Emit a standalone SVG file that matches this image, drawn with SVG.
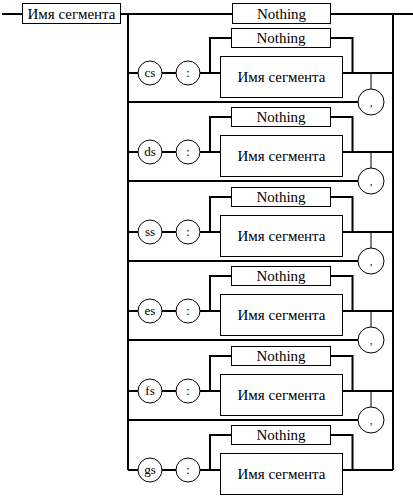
<svg xmlns="http://www.w3.org/2000/svg" width="413" height="498" viewBox="0 0 413 498">
<defs>
<style>
.bg{fill:#fff}
.box{fill:#fff;stroke:#000;stroke-width:1}
.ln{fill:none;stroke:#000;stroke-width:2}
.thin{fill:none;stroke:#000;stroke-width:1}
text{font-family:'Liberation Serif','DejaVu Serif',serif;fill:#000;text-anchor:middle}
.t{font-size:15px}
.c{font-size:13px}
.cm{font-size:11px}
</style>
<g id="row">
<path class="ln" d="M128 0H138M162 0H176M200 0H220.5M210 0V-35H231.5M330.5 -35H352.5V0M342.5 0H393"/>
<circle class="thin" cx="150" cy="0" r="12" fill="#fff"/>
<circle class="thin" cx="188" cy="0" r="12" fill="#fff"/>
<text class="c" x="188" y="4" font-family="Liberation Serif, serif">:</text>
<rect class="box" x="231.5" y="-44.5" width="99" height="19"/>
<text class="t" x="281" y="-30" font-family="Liberation Serif, serif">Nothing</text>
<rect class="box" x="220.5" y="-16.5" width="122" height="41"/>
<text class="t" x="281.5" y="9" font-family="Liberation Serif, serif">Имя сегмента</text>
</g>
<g id="loop">
<path class="thin" d="M371 0V16"/>
<path class="ln" d="M128 29H358"/>
<circle class="thin" cx="371" cy="29" r="13" fill="#fff"/>
<text class="cm" x="371" y="33" font-family="Liberation Serif, serif">,</text>
</g>
</defs>
<rect class="bg" x="0" y="0" width="413" height="498"/>
<g id="connectors">
<path class="ln" d="M2 14H22.5M120.5 14H232.5M330.5 14H413M128 14V470M393 14V470"/>
</g>
<g id="start">
<rect class="box" x="22.5" y="3.5" width="98" height="20"/>
<text class="t" x="71.5" y="19" font-family="Liberation Serif, serif">Имя сегмента</text>
</g>
<g id="nothing-top">
<rect class="box" x="232.5" y="3.5" width="98" height="20"/>
<text class="t" x="281.5" y="19" font-family="Liberation Serif, serif">Nothing</text>
</g>
<g id="row-cs" transform="translate(0,73)"><use href="#row"/><use href="#loop"/><text class="c" x="150" y="4" font-family="Liberation Serif, serif">cs</text></g>
<g id="row-ds" transform="translate(0,152)"><use href="#row"/><use href="#loop"/><text class="c" x="150" y="4" font-family="Liberation Serif, serif">ds</text></g>
<g id="row-ss" transform="translate(0,232)"><use href="#row"/><use href="#loop"/><text class="c" x="150" y="4" font-family="Liberation Serif, serif">ss</text></g>
<g id="row-es" transform="translate(0,311)"><use href="#row"/><use href="#loop"/><text class="c" x="150" y="4" font-family="Liberation Serif, serif">es</text></g>
<g id="row-fs" transform="translate(0,391)"><use href="#row"/><use href="#loop"/><text class="c" x="150" y="4" font-family="Liberation Serif, serif">fs</text></g>
<g id="row-gs" transform="translate(0,470)"><use href="#row"/><text class="c" x="150" y="4" font-family="Liberation Serif, serif">gs</text></g>
</svg>
